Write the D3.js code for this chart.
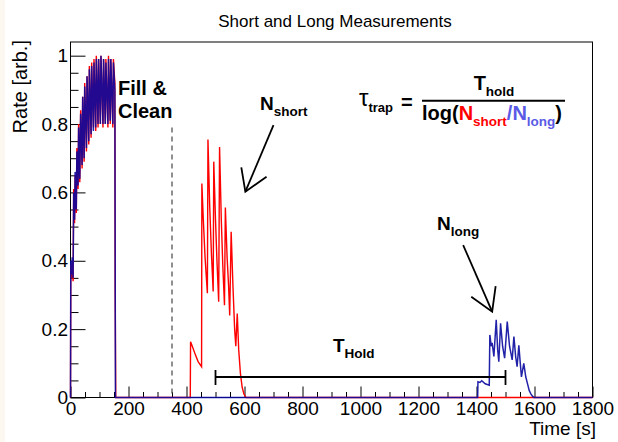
<!DOCTYPE html>
<html>
<head>
<meta charset="utf-8">
<script src="https://cdn.jsdelivr.net/npm/d3@7"></script>
<style>
  body { margin: 0; background: #fff; }
  text { font-family: "Liberation Sans", Arial, Helvetica, sans-serif; }
</style>
</head>
<body>
<svg id="chart" width="618" height="442"></svg>
<script>
// ---- data (time in s, rate in arb. units) ----
var blueTime = [0, 1, 4, 6, 9, 11, 14, 16, 20, 22, 26, 28, 32, 35, 40, 42, 47, 49, 55, 57, 63, 65, 71, 73, 79, 81, 87, 89,
  95, 97, 103, 105, 112, 114, 120, 122, 129, 131, 137, 139, 146, 148, 153, 155,
  1404, 1405, 1412, 1418, 1430, 1444, 1446, 1451, 1454, 1460, 1468, 1473, 1477, 1483, 1490, 1497, 1506, 1514, 1523,
  1529, 1535, 1540, 1546, 1550, 1555, 1563, 1570, 1576, 1582, 1588, 1593, 1598, 1800];
var blueRate = [0, 0.40, 0.36, 0.41, 0.35, 0.60, 0.52, 0.66, 0.55, 0.72, 0.62, 0.79, 0.64, 0.83, 0.68, 0.88, 0.70, 0.91,
  0.73, 0.94, 0.75, 0.96, 0.77, 0.97, 0.78, 0.98, 0.79, 0.99, 0.80, 0.99, 0.80, 1.0, 0.80, 0.99, 0.80, 0.98, 0.80, 0.99,
  0.81, 0.99, 0.80, 0.98, 0.90, 0,
  0, 0.046, 0.044, 0.049, 0.040, 0.036, 0.183, 0.150, 0.160, 0.120, 0.227, 0.140, 0.105, 0.217, 0.150, 0.115, 0.222,
  0.150, 0.110, 0.178, 0.120, 0.090, 0.153, 0.110, 0.060, 0.100, 0.060, 0.040, 0.020, 0.010, 0.004, 0, 0];

var redTime = [0, 1, 4, 6, 9, 11, 14, 16, 20, 22, 26, 28, 32, 35, 40, 42, 47, 49, 55, 57, 63, 65, 71, 73, 79, 81, 87, 89,
  95, 97, 103, 105, 112, 114, 120, 122, 129, 131, 137, 139, 146, 148, 153, 154, 156,
  413, 414, 420, 431, 440, 452, 453, 458, 464, 472, 474, 480, 486, 492, 494, 500, 505, 511, 514, 520, 525, 531,
  534, 540, 545, 549, 554, 560, 566, 570, 575, 580, 586, 592, 598, 605, 1800];
var redRate = [0, 0.39, 0.35, 0.40, 0.34, 0.61, 0.51, 0.65, 0.54, 0.73, 0.61, 0.80, 0.63, 0.84, 0.67, 0.88, 0.69, 0.92,
  0.72, 0.94, 0.74, 0.97, 0.76, 0.98, 0.79, 0.99, 0.78, 1.0, 0.79, 0.99, 0.80, 1.0, 0.79, 0.99, 0.80, 0.99, 0.79, 1.0,
  0.80, 0.99, 0.79, 0.99, 0.92, 0.32, 0,
  0, 0.163, 0.150, 0.124, 0.105, 0.090, 0.626, 0.520, 0.410, 0.305, 0.755, 0.560, 0.420, 0.310, 0.690, 0.520, 0.400,
  0.280, 0.733, 0.520, 0.390, 0.270, 0.556, 0.410, 0.330, 0.240, 0.485, 0.330, 0.200, 0.150, 0.246, 0.140, 0.070,
  0.030, 0.010, 0, 0];

var xTicks = [0, 200, 400, 600, 800, 1000, 1200, 1400, 1600, 1800];
var yTicks = [0, 0.2, 0.4, 0.6, 0.8, 1];

var fillEnd = 350;        // dashed marker
var holdStart = 500, holdEnd = 1500, holdLevel = 0.06;

var margin = {top: 42, right: 25.5, bottom: 44.5, left: 70.5};
var width = 618 - margin.left - margin.right,
    height = 442 - margin.top - margin.bottom;

var svg = d3.select("#chart");

svg.append("rect").attr("x", 0).attr("y", 0).attr("width", 5).attr("height", 442).attr("fill", "#fcf8f1");

var g = svg.append("g")
    .attr("transform", "translate(" + margin.left + "," + margin.top + ")");

var x = d3.scaleLinear().domain([0, 1800]).range([0, width]);
var y = d3.scaleLinear().domain([0, 1.04]).range([height, 0]);

// title
svg.append("text")
    .attr("x", 335).attr("y", 27)
    .attr("text-anchor", "middle")
    .style("font-size", "17px")
    .text("Short and Long Measurements");

// minor ticks
var xMinor = d3.range(0, 1801, 50).filter(function (d) { return d % 200 !== 0; });
var yMinor = d3.range(0, 1.0001, 0.05).filter(function (d) { return Math.abs(d * 5 - Math.round(d * 5)) > 1e-6; });

g.append("g")
    .attr("transform", "translate(0," + height + ")")
    .call(d3.axisBottom(x).tickValues(xMinor).tickSize(-5.5).tickFormat(""))
    .call(function (a) { a.select(".domain").remove(); });

g.append("g")
    .call(d3.axisLeft(y).tickValues(yMinor).tickSize(-8).tickFormat(""))
    .call(function (a) { a.select(".domain").remove(); });

// major ticks + labels
var xAxis = g.append("g")
    .attr("transform", "translate(0," + height + ")")
    .call(d3.axisBottom(x).tickValues(xTicks).tickSize(-11).tickPadding(4).tickFormat(d3.format("d")));
xAxis.select(".domain").remove();
xAxis.selectAll("text").style("font-size", "19px").attr("fill", "#000");

var yAxis = g.append("g")
    .call(d3.axisLeft(y).tickValues(yTicks).tickSize(-15).tickPadding(2.5).tickFormat(d3.format("~g")));
yAxis.select(".domain").remove();
yAxis.selectAll("text").style("font-size", "19px").attr("fill", "#000");

g.selectAll(".tick line").attr("stroke", "#000");

// axis titles
svg.append("text")
    .attr("x", 596).attr("y", 435)
    .attr("text-anchor", "end")
    .style("font-size", "19px")
    .text("Time [s]");

svg.append("text")
    .attr("transform", "translate(27,40) rotate(-90)")
    .attr("text-anchor", "end")
    .style("font-size", "20px")
    .text("Rate [arb.]");

// frame
g.append("rect")
    .attr("width", width).attr("height", height)
    .attr("fill", "none").attr("stroke", "#000").attr("stroke-width", 1);

// series
var line = d3.line()
    .x(function (d) { return x(d[0]); })
    .y(function (d) { return y(d[1]); });

var redData = redTime.map(function (t, i) { return [t, redRate[i]]; });
var blueData = blueTime.map(function (t, i) { return [t, blueRate[i]]; });

g.append("path").datum(redData)
    .attr("d", line).attr("fill", "none")
    .attr("stroke", "#ff0000").attr("stroke-width", 1.4);

g.append("path").datum(blueData)
    .attr("d", line).attr("fill", "none")
    .attr("stroke", "#0a0aa0").attr("stroke-width", 1.5)
    .attr("stroke-opacity", 0.9);

// dashed marker
g.append("line")
    .attr("x1", x(fillEnd)).attr("x2", x(fillEnd))
    .attr("y1", y(0.79)).attr("y2", y(0))
    .attr("stroke", "#555").attr("stroke-width", 1.3)
    .attr("stroke-dasharray", "5,4");

// hold bar
var hold = g.append("g").attr("stroke", "#000").attr("stroke-width", 1.8);
hold.append("line").attr("x1", x(holdStart)).attr("x2", x(holdEnd)).attr("y1", y(holdLevel)).attr("y2", y(holdLevel));
hold.append("line").attr("x1", x(holdStart)).attr("x2", x(holdStart)).attr("y1", y(holdLevel) - 7).attr("y2", y(holdLevel) + 8);
hold.append("line").attr("x1", x(holdEnd)).attr("x2", x(holdEnd)).attr("y1", y(holdLevel) - 7).attr("y2", y(holdLevel) + 8);

// arrows (open heads)
function arrow(p0, tip, h1, h2) {
  var a = g.append("g").attr("stroke", "#000").attr("stroke-width", 1.8).attr("fill", "none");
  a.append("line").attr("x1", x(p0[0])).attr("y1", y(p0[1])).attr("x2", x(tip[0])).attr("y2", y(tip[1]));
  a.append("polyline").attr("points", [h1, tip, h2].map(function (p) { return x(p[0]) + "," + y(p[1]); }).join(" "));
}
arrow([700, 0.797], [603, 0.602], [589, 0.673], [676, 0.646]);
arrow([1354, 0.446], [1454, 0.251], [1382, 0.295], [1466, 0.326]);

// labels with subscripts
function label(xp, yp, main, sub, opts) {
  opts = opts || {};
  var t = svg.append("text").attr("x", xp).attr("y", yp)
      .style("font-weight", "bold").attr("text-anchor", opts.anchor || "start");
  t.append("tspan").style("font-size", (opts.size || 19) + "px").attr("fill", opts.color || "#000").text(main);
  t.append("tspan").style("font-size", (opts.subSize || 13.5) + "px").attr("fill", opts.color || "#000")
      .attr("dy", opts.subDy || 6).text(sub);
  return t;
}

svg.append("text").attr("x", 118).attr("y", 95).style("font-weight", "bold").style("font-size", "20px").text("Fill &");
svg.append("text").attr("x", 118).attr("y", 118).style("font-weight", "bold").style("font-size", "20px").text("Clean");

label(260, 110, "N", "short");
label(437, 230, "N", "long");
label(333, 352, "T", "Hold");

// formula
var tau = svg.append("text").attr("x", 359).attr("y", 106);
tau.append("tspan").style("font-size", "24px").text("\u03C4");
tau.append("tspan").style("font-size", "13px").style("font-weight", "bold").attr("dy", 6).text("trap");
svg.append("text").attr("x", 401).attr("y", 109).style("font-size", "20px").style("font-weight", "bold").text("=");

svg.append("line").attr("x1", 422).attr("x2", 565).attr("y1", 100.7).attr("y2", 100.7)
    .attr("stroke", "#000").attr("stroke-width", 2);

label(494, 90, "T", "hold", {anchor: "middle", size: 20});

var den = svg.append("text").attr("x", 422).attr("y", 120).style("font-weight", "bold");
den.append("tspan").style("font-size", "20px").text("log(");
den.append("tspan").style("font-size", "20px").attr("fill", "#ff0000").text("N");
den.append("tspan").style("font-size", "13.5px").attr("fill", "#ff0000").attr("dy", 6).text("short");
den.append("tspan").style("font-size", "20px").attr("fill", "#5a5ae6").attr("dy", -6).text("/N");
den.append("tspan").style("font-size", "13.5px").attr("fill", "#5a5ae6").attr("dy", 6).text("long");
den.append("tspan").style("font-size", "20px").attr("dy", -6).text(")");
</script>
</body>
</html>
